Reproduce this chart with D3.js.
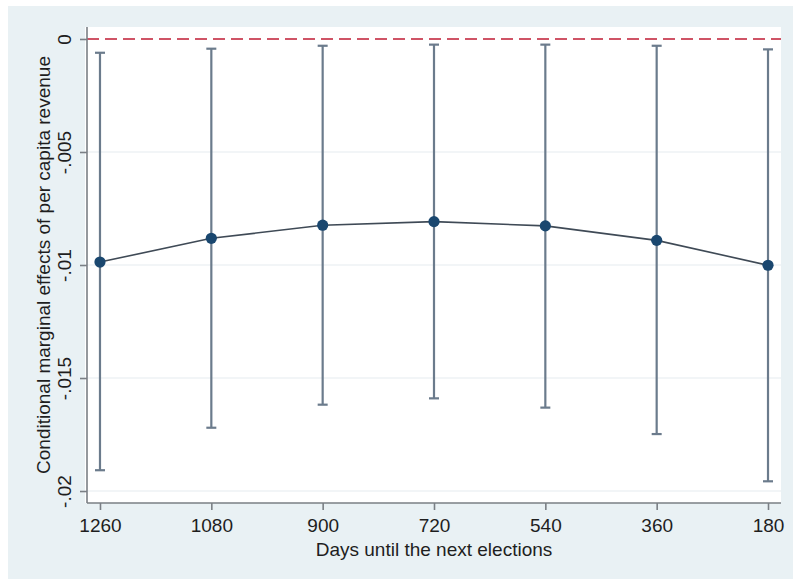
<!DOCTYPE html>
<html>
<head>
<meta charset="utf-8">
<script src="https://cdn.jsdelivr.net/npm/d3@7"></script>
<style>
html,body{margin:0;padding:0;background:#fff;}
svg{display:block;}
text{font-family:"Liberation Sans",Arial,Helvetica,sans-serif;fill:#1e1e1e;}
</style>
</head>
<body>
<svg id="chart" width="793" height="579"></svg>
<script>
const days = [1260, 1080, 900, 720, 540, 360, 180];
const effect = [-0.00987, -0.00882, -0.00824, -0.00808, -0.00827, -0.00891, -0.01001];
const upper = [-0.00061, -0.00043, -0.00030, -0.00025, -0.00025, -0.00030, -0.00046];
const lower = [-0.01908, -0.01720, -0.01618, -0.01590, -0.01631, -0.01748, -0.01957];
const yTicks = [0, -0.005, -0.01, -0.015, -0.02];
const yTickLabels = ["0", "-.005", "-.01", "-.015", "-.02"];
const xLabel = "Days until the next elections";
const yLabel = "Conditional marginal effects of per capita revenue";

const data = days.map((d, i) => ({d, e: effect[i], u: upper[i], l: lower[i]}));

const svg = d3.select("#chart");
const W = 793, H = 579;
const plot = {left: 87, right: 781, top: 27, bottom: 503};

svg.append("rect").attr("x", 8).attr("y", 6).attr("width", W - 8).attr("height", H - 6).attr("fill", "#e9f1f4");
svg.append("rect").attr("x", plot.left - 2).attr("y", plot.top).attr("width", plot.right - plot.left + 2).attr("height", plot.bottom - plot.top).attr("fill", "#ffffff");

const x = d3.scaleLinear().domain([1281.0, 159.0]).range([plot.left, plot.right]);
const y = d3.scaleLinear().domain([0.00053, -0.02053]).range([plot.top, plot.bottom]);

// gridlines
svg.append("g").selectAll("line").data(yTicks.filter(t => t !== 0)).join("line")
  .attr("x1", plot.left).attr("x2", plot.right)
  .attr("y1", d => y(d)).attr("y2", d => y(d))
  .attr("stroke", "#eef2f4").attr("stroke-width", 1.5);

// zero reference line
svg.append("line")
  .attr("x1", plot.left).attr("x2", plot.right)
  .attr("y1", y(0)).attr("y2", y(0))
  .attr("stroke", "#cf5466").attr("stroke-width", 2).attr("stroke-dasharray", "12,6");

// error bars
const eb = svg.append("g").attr("stroke", "#6b7b8c").attr("stroke-width", 2.2);
eb.selectAll("line.v").data(data).join("line").attr("class", "v")
  .attr("x1", d => x(d.d)).attr("x2", d => x(d.d))
  .attr("y1", d => y(d.u)).attr("y2", d => y(d.l));
eb.selectAll("line.cu").data(data).join("line").attr("class", "cu")
  .attr("x1", d => x(d.d) - 5).attr("x2", d => x(d.d) + 5)
  .attr("y1", d => y(d.u)).attr("y2", d => y(d.u));
eb.selectAll("line.cl").data(data).join("line").attr("class", "cl")
  .attr("x1", d => x(d.d) - 5).attr("x2", d => x(d.d) + 5)
  .attr("y1", d => y(d.l)).attr("y2", d => y(d.l));

// connecting line
svg.append("path").datum(data)
  .attr("d", d3.line().x(d => x(d.d)).y(d => y(d.e)))
  .attr("fill", "none").attr("stroke", "#3f4a56").attr("stroke-width", 1.6);

// points
svg.append("g").selectAll("circle").data(data).join("circle")
  .attr("cx", d => x(d.d)).attr("cy", d => y(d.e)).attr("r", 5.6)
  .attr("fill", "#1a476f");

// axes
const FS = 19;
const xAxis = d3.axisBottom(x).tickValues(days).tickFormat(d3.format("d")).tickSize(7).tickPadding(8.5);
const gx = svg.append("g").attr("transform", `translate(0,${plot.bottom})`).call(xAxis);
gx.select(".domain").attr("d", `M${plot.left},0H${plot.right}`);
gx.selectAll("path,line").attr("stroke", "#7a7f85").attr("stroke-width", 1.6);
gx.selectAll("text").attr("font-size", FS).attr("fill", "#1e1e1e");

const yAxis = d3.axisLeft(y).tickValues(yTicks).tickFormat((d, i) => yTickLabels[i]).tickSize(7);
const gy = svg.append("g").attr("transform", `translate(${plot.left},0)`).call(yAxis);
gy.select(".domain").attr("d", `M0,${plot.top}V${plot.bottom}`);
gy.selectAll("path,line").attr("stroke", "#7a7f85").attr("stroke-width", 1.6);
gy.selectAll("text")
  .attr("font-size", FS).attr("fill", "#1e1e1e")
  .attr("text-anchor", "middle").attr("dy", null)
  .attr("x", null)
  .attr("transform", "translate(-16,0) rotate(-90)")
  .attr("y", 0);

// axis titles
svg.append("text").attr("x", (plot.left + plot.right) / 2).attr("y", 555.5)
  .attr("text-anchor", "middle").attr("font-size", FS).text(xLabel);
svg.append("text")
  .attr("transform", `translate(50,${(plot.top + plot.bottom) / 2}) rotate(-90)`)
  .attr("text-anchor", "middle").attr("font-size", FS).text(yLabel);
</script>
</body>
</html>
